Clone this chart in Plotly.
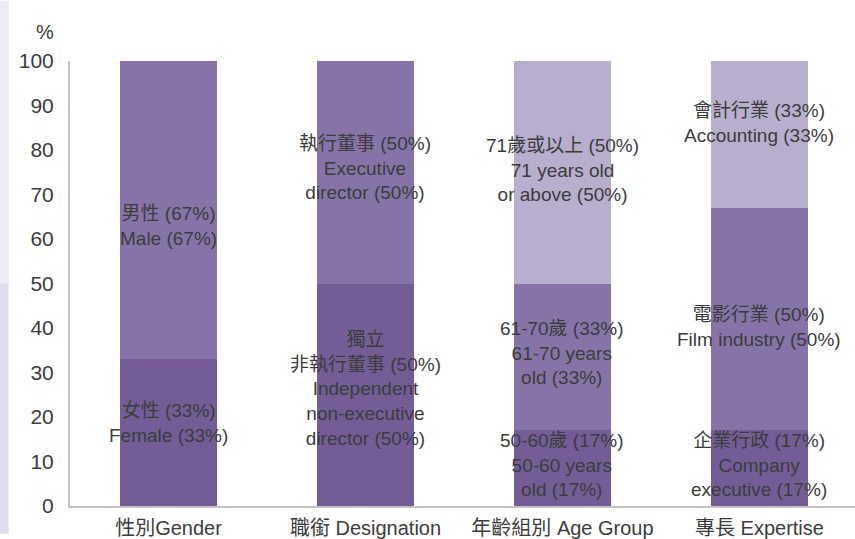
import plotly.graph_objects as go

# ---- data ----
categories = ["性別Gender", "職銜 Designation", "年齡組別 Age Group", "專長 Expertise"]

# stacked segments (bottom / middle / top), in %
bottom_vals = [33, 50, 17, 17]
middle_vals = [67, 50, 33, 50]
top_vals = [0, 0, 50, 33]

bottom_labels = ["女性 (33%)<br>Female (33%)",
                 "獨立<br>非執行董事 (50%)<br>Independent<br>non-executive<br>director (50%)",
                 "50-60歲 (17%)<br>50-60 years<br>old (17%)",
                 "企業行政 (17%)<br>Company<br>executive (17%)"]
middle_labels = ["男性 (67%)<br>Male (67%)",
                 "執行董事 (50%)<br>Executive<br>director (50%)",
                 "61-70歲 (33%)<br>61-70 years<br>old (33%)",
                 "電影行業 (50%)<br>Film industry (50%)"]
top_labels = ["", "", "71歲或以上 (50%)<br>71 years old<br>or above (50%)",
              "會計行業 (33%)<br>Accounting (33%)"]

y_ticks = [0, 10, 20, 30, 40, 50, 60, 70, 80, 90, 100]

# ---- style ----
FONT = "Liberation Sans, Arial, Noto Sans CJK TC, sans-serif"
TXT = "#3c3c3c"
colors = ["#745c97", "#8873a8", "#b8aecd"]
# label vertical placement (style, not data)
bottom_label_y = [18.7, 26.4, 9.3, 9.3]
middle_label_y = [62.9, 76.0, 34.4, 40.2]
top_label_y = [None, None, 75.6, 86.0]

fig = go.Figure()
for vals, col in zip([bottom_vals, middle_vals, top_vals], colors):
    fig.add_trace(go.Bar(x=categories, y=vals, marker=dict(color=col, line=dict(width=0)),
                         width=0.492, hoverinfo="skip", showlegend=False))

annotations = []
for labels, ys in [(bottom_labels, bottom_label_y), (middle_labels, middle_label_y),
                   (top_labels, top_label_y)]:
    for cat, lab, yy in zip(categories, labels, ys):
        if not lab:
            continue
        annotations.append(dict(x=cat, y=yy, xref="x", yref="y", text=lab, showarrow=False,
                                font=dict(family=FONT, size=19, color=TXT), align="center",
                                xanchor="center", yanchor="middle"))

annotations.append(dict(x=-25 / 785, y=1 + 29 / 450, xref="paper", yref="paper", text="%",
                        showarrow=False, font=dict(family=FONT, size=20, color=TXT),
                        xanchor="center", yanchor="middle"))

shapes = [
    dict(type="rect", xref="paper", yref="paper", x0=-70 / 785, x1=-61 / 785, y0=-28 / 450,
         y1=1 + 61 / 450, fillcolor="rgba(215,212,234,0.45)", line=dict(width=0), layer="below"),
    dict(type="rect", xref="paper", yref="paper", x0=-70 / 785, x1=-62 / 785, y0=-28 / 450,
         y1=0.5, fillcolor="rgba(200,196,226,0.35)", line=dict(width=0), layer="below"),
]

fig.update_layout(
    width=855, height=539,
    margin=dict(l=70, r=0, t=61, b=28),
    barmode="stack",
    plot_bgcolor="white", paper_bgcolor="white",
    font=dict(family=FONT, size=18, color=TXT),
    annotations=annotations,
    shapes=shapes,
    xaxis=dict(type="category", range=[-0.5, 3.485], showgrid=False, ticks="",
               showline=True, linecolor="#c4c4c4", linewidth=2, ticklabelstandoff=3,
               tickfont=dict(family=FONT, size=20, color=TXT)),
    yaxis=dict(range=[0, 100], tickvals=y_ticks, showgrid=False, zeroline=False,
               showline=True, linecolor="#c4c4c4", linewidth=2, ticks="",
               ticklabelstandoff=10,
               tickfont=dict(family=FONT, size=21, color=TXT)),
)

fig.write_html("out.html", config={"displayModeBar": False},
               post_script="document.body.style.margin='0';")
